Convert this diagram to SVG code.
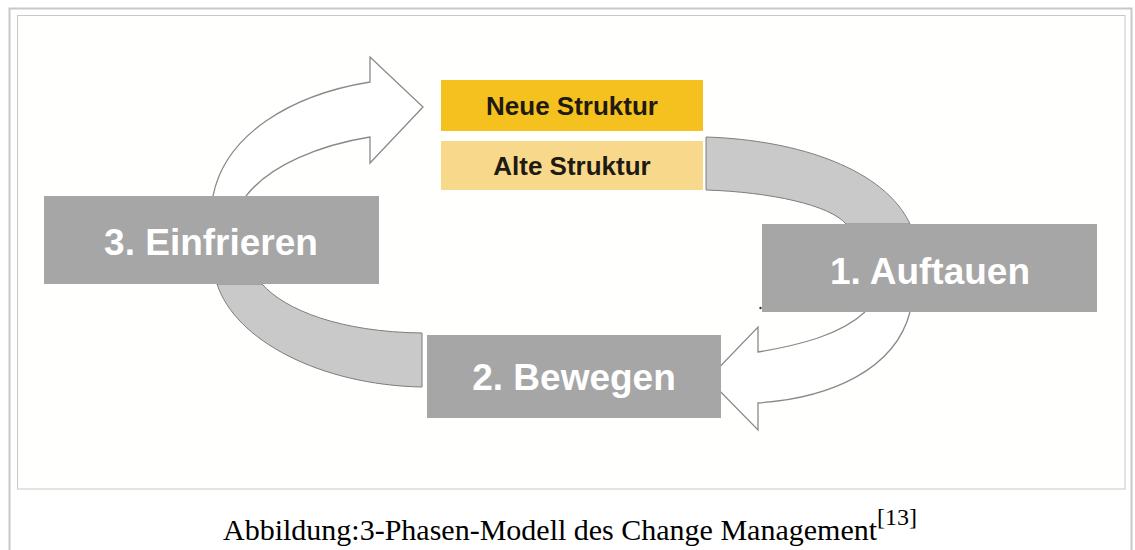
<svg xmlns="http://www.w3.org/2000/svg" width="1135" height="550" viewBox="0 0 1135 550">
  <style>
    .phase { fill: #a6a6a6; }
    .phase-text { font-family: "Liberation Sans", Arial, sans-serif; font-weight: bold; font-size: 37px; fill: #ffffff; text-anchor: middle; }
    .struct-text { font-family: "Liberation Sans", Arial, sans-serif; font-weight: bold; font-size: 26px; fill: #1f1a12; text-anchor: middle; }
    .band { fill: #c9c9c9; stroke: #7d7d7d; stroke-width: 1; }
    .outline-arrow { fill: #ffffff; stroke: #8a8a8a; stroke-width: 1.3; stroke-linejoin: miter; }
    .caption { font-family: "Liberation Serif", "Times New Roman", serif; fill: #000000; }
  </style>
  <rect x="0" y="0" width="1135" height="550" fill="#ffffff"/>
  <!-- frames -->
  <rect x="9.5" y="8.5" width="1122" height="560" fill="#ffffff" stroke="#c8c8c8" stroke-width="2"/>
  <rect x="17.5" y="15.5" width="1107.5" height="473.5" fill="#fffffd" stroke="#c8c8c8" stroke-width="1"/>

  <g id="connectors">
    <!-- top-right band: Alte Struktur -> 1. Auftauen -->
    <path class="band" d="M706,137 C800,140 885,170 910,224 L846,224 C830,205 770,192 706,190 Z"/>
    <!-- bottom-left band: 3. Einfrieren -> 2. Bewegen -->
    <path class="band" d="M217,284 C235,340 320,385 422,387 L422,333 C340,332 285,310 262,284 Z"/>
    <!-- top-left outlined arrow: 3. Einfrieren -> Neue Struktur -->
    <path class="outline-arrow" d="M213,196 C225,135 290,95 370,82 L370,57 L423,107 L370,163 L370,137 C320,145 270,165 246,196"/>
    <!-- bottom-right outlined arrow: 1. Auftauen -> 2. Bewegen -->
    <path class="outline-arrow" d="M910,312 C895,370 830,398 758,403 L758,430 L708,379 L758,327 L758,352 C800,345 840,335 865,312"/>
  </g>

  <g id="node-neue-struktur">
    <rect x="441" y="80" width="262" height="51" fill="#f4c11f"/>
    <text class="struct-text" x="572" y="115">Neue Struktur</text>
  </g>
  <g id="node-alte-struktur">
    <rect x="441" y="141" width="262" height="49" fill="#f8d98b"/>
    <text class="struct-text" x="572" y="175">Alte Struktur</text>
  </g>
  <g id="node-einfrieren">
    <rect class="phase" x="44" y="196" width="335" height="88"/>
    <text class="phase-text" x="211" y="255">3. Einfrieren</text>
  </g>
  <g id="node-auftauen">
    <rect class="phase" x="762" y="224" width="335" height="88"/>
    <text class="phase-text" x="930" y="284">1. Auftauen</text>
  </g>
  <g id="node-bewegen">
    <rect class="phase" x="427" y="335" width="294" height="83"/>
    <text class="phase-text" x="574" y="390">2. Bewegen</text>
  </g>
  <circle cx="760.5" cy="308" r="1.2" fill="#333333"/>

  <g id="caption">
    <text class="caption" x="223" y="540" font-size="30">Abbildung:3-Phasen-Modell des Change Management<tspan font-size="24" dy="-15">[13]</tspan></text>
  </g>
</svg>
